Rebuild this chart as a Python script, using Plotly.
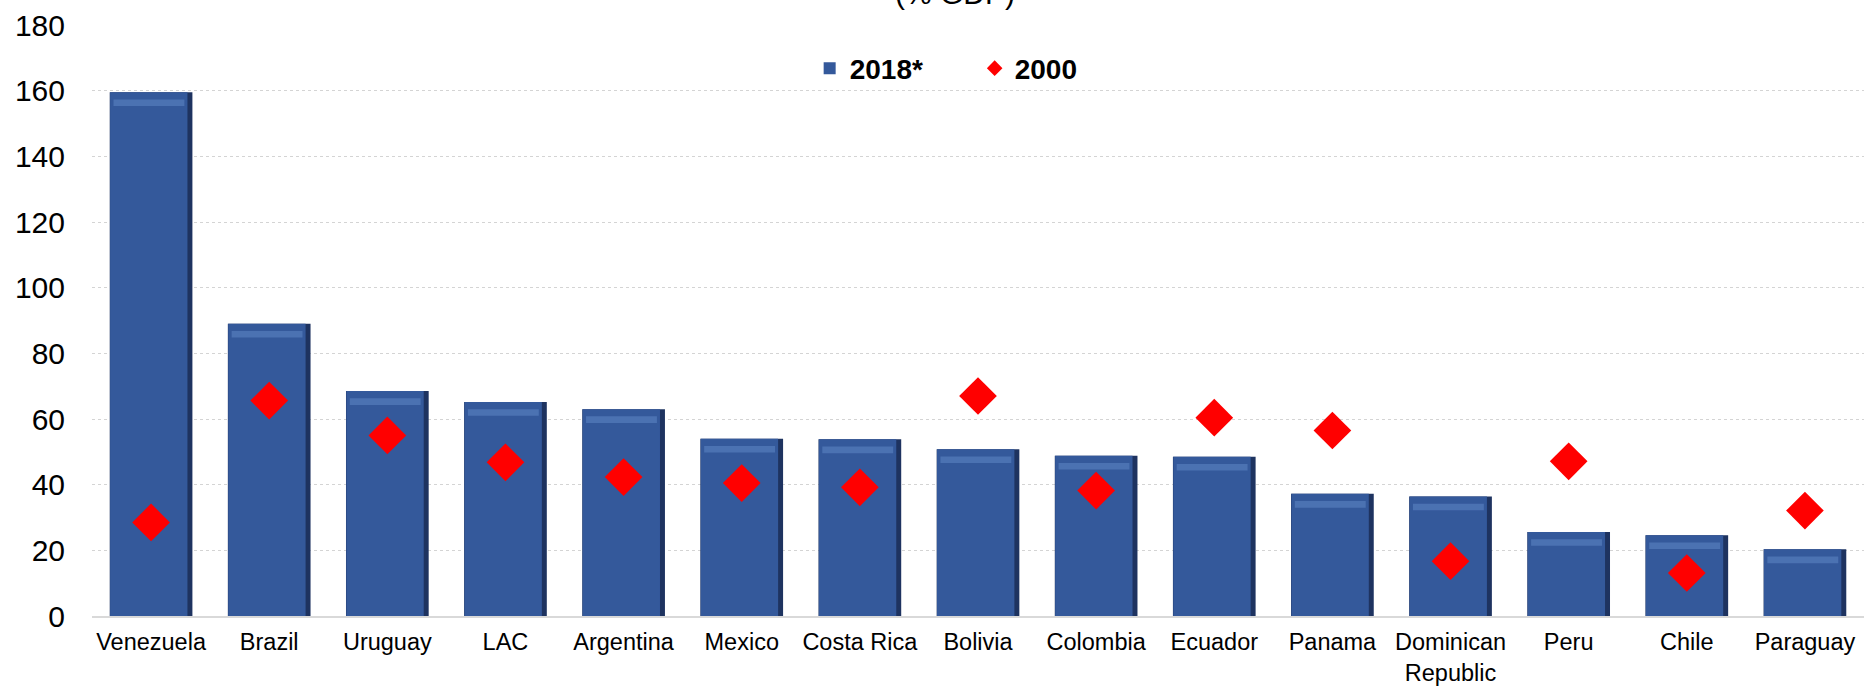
import plotly.graph_objects as go

# Public debt by country, % of GDP
countries = ["Venezuela", "Brazil", "Uruguay", "LAC", "Argentina", "Mexico",
             "Costa Rica", "Bolivia", "Colombia", "Ecuador", "Panama",
             "Dominican<br>Republic", "Peru", "Chile", "Paraguay"]
debt_2018 = [159.5, 89.0, 68.5, 65.2, 63.0, 54.0, 53.8, 50.8, 48.8, 48.5,
             37.2, 36.4, 25.6, 24.6, 20.3]
debt_2000 = [28.5, 65.6, 55.0, 46.8, 42.3, 40.5, 39.2, 67.0, 38.2, 60.4,
             56.5, 16.7, 47.1, 13.1, 32.1]
y_ticks = [0, 20, 40, 60, 80, 100, 120, 140, 160, 180]

FONT = "Liberation Sans, Arial, sans-serif"

fig = go.Figure()

# dark edge layer behind each bar
fig.add_trace(go.Bar(
    x=countries, y=debt_2018, width=0.7,
    marker=dict(color="#1E3360", line=dict(width=0)),
    showlegend=False, hoverinfo="skip",
))
# bar face, slightly narrower so the dark right edge shows
fig.add_trace(go.Bar(
    x=countries, y=debt_2018, width=0.655, offset=-0.347,
    marker=dict(color="#34599B", line=dict(width=0)),
    name="2018*",
))
# light bevel band just under each bar top
fig.add_trace(go.Bar(
    x=countries, y=[2.0] * len(debt_2018),
    base=[v - 4.2 for v in debt_2018],
    width=0.6, offset=-0.318,
    marker=dict(color="#4B72B2", line=dict(width=0)),
    showlegend=False, hoverinfo="skip",
))

fig.add_trace(go.Scatter(
    x=countries, y=debt_2000, mode="markers", name="2000",
    marker=dict(symbol="diamond", size=29, color="#FF0000",
                line=dict(width=0)),
))

fig.update_layout(
    width=1864, height=686,
    margin=dict(l=92, r=0, t=25, b=70),
    paper_bgcolor="white", plot_bgcolor="white",
    barmode="overlay",
    font=dict(family=FONT, color="black"),
    legend=dict(
        orientation="h", x=0.405, xanchor="left", y=0.9265, yanchor="middle",
        font=dict(family=FONT, size=28, color="black", weight="bold"),
        itemsizing="constant", entrywidth=120, itemwidth=30,
        bgcolor="rgba(0,0,0,0)",
    ),
    annotations=[dict(
        text="(% GDP)", xref="paper", yref="paper", x=0.487, y=1.053,
        xanchor="center", yanchor="middle", showarrow=False,
        font=dict(family=FONT, size=30, color="black"),
    )],
)

fig.update_yaxes(
    range=[0, 180], tickvals=y_ticks, automargin=False,
    tickfont=dict(family=FONT, size=30, color="black"),
    showgrid=True, gridcolor="#D4D4D4", griddash="dot", gridwidth=1,
    zeroline=False, showline=False, ticks="", ticklabelstandoff=26,
)
fig.update_xaxes(
    automargin=False, range=[-0.5, len(countries) - 0.5],
    tickfont=dict(family=FONT, size=23.5, color="black"),
    showline=True, linecolor="#D9D9D9", linewidth=2,
    showgrid=False, ticks="", ticklabelstandoff=4,
)

fig.write_html("out.html")
